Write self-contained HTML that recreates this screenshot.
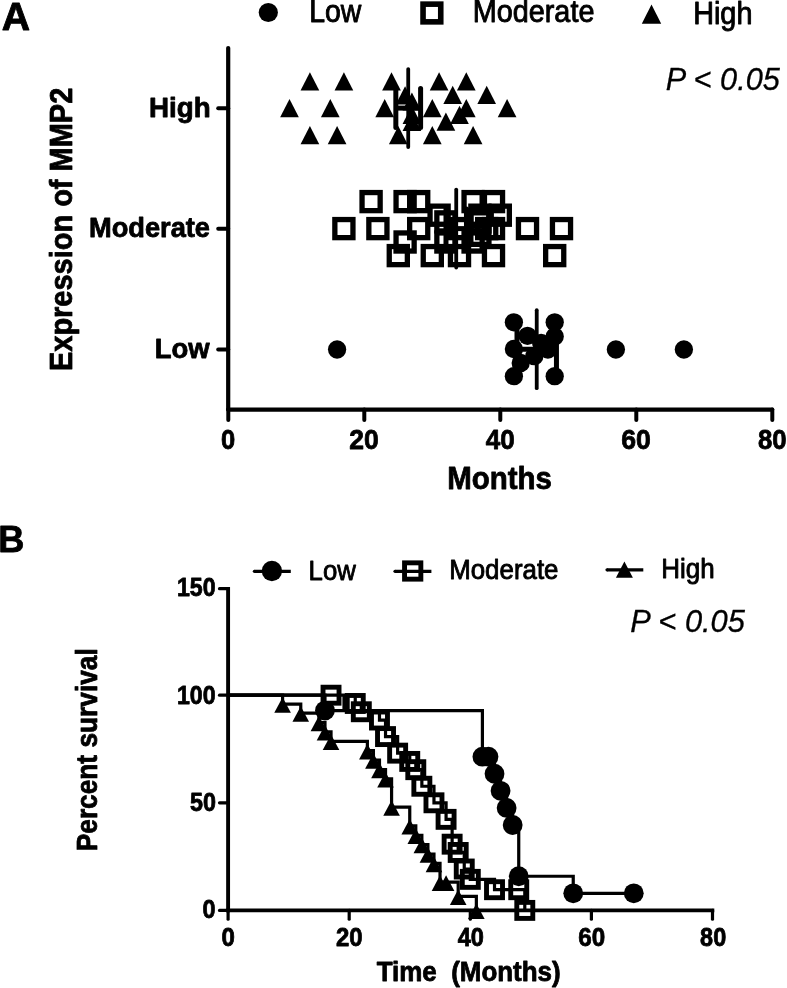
<!DOCTYPE html>
<html><head><meta charset="utf-8"><title>Figure</title>
<style>html,body{margin:0;padding:0;background:#fff}svg{display:block}</style></head>
<body>
<svg width="787" height="988" viewBox="0 0 787 988">
<rect width="787" height="988" fill="#fff"/>
<g stroke="#000" fill="none">
<line x1="228.20" y1="48.00" x2="228.20" y2="409.60" stroke-width="4.2" stroke-linecap="round"/>
<line x1="228.20" y1="409.60" x2="772.20" y2="409.60" stroke-width="4.2" stroke-linecap="round"/>
<line x1="228.30" y1="409.60" x2="228.30" y2="419.90" stroke-width="4.0" stroke-linecap="round"/>
<line x1="364.30" y1="409.60" x2="364.30" y2="419.90" stroke-width="4.0" stroke-linecap="round"/>
<line x1="500.30" y1="409.60" x2="500.30" y2="419.90" stroke-width="4.0" stroke-linecap="round"/>
<line x1="636.30" y1="409.60" x2="636.30" y2="419.90" stroke-width="4.0" stroke-linecap="round"/>
<line x1="772.30" y1="409.60" x2="772.30" y2="419.90" stroke-width="4.0" stroke-linecap="round"/>
<line x1="218.20" y1="108.20" x2="228.20" y2="108.20" stroke-width="4.0" stroke-linecap="round"/>
<line x1="218.20" y1="228.70" x2="228.20" y2="228.70" stroke-width="4.0" stroke-linecap="round"/>
<line x1="218.20" y1="349.50" x2="228.20" y2="349.50" stroke-width="4.0" stroke-linecap="round"/>
<circle cx="268.30" cy="12.50" r="9.60" fill="#000" stroke="none"/>
<rect x="423.05" y="4.15" width="17.70" height="17.70" fill="none" stroke-width="5.6"/>
<polygon points="651.50,4.55 661.20,23.85 641.80,23.85" fill="#000" stroke="none"/>
<polygon points="309.90,72.30 319.25,90.50 300.55,90.50" fill="#000" stroke="none"/>
<polygon points="343.90,72.30 353.25,90.50 334.55,90.50" fill="#000" stroke="none"/>
<polygon points="391.50,72.30 400.85,90.50 382.15,90.50" fill="#000" stroke="none"/>
<polygon points="439.10,72.30 448.45,90.50 429.75,90.50" fill="#000" stroke="none"/>
<polygon points="466.30,72.30 475.65,90.50 456.95,90.50" fill="#000" stroke="none"/>
<polygon points="289.50,99.10 298.85,117.30 280.15,117.30" fill="#000" stroke="none"/>
<polygon points="330.30,99.10 339.65,117.30 320.95,117.30" fill="#000" stroke="none"/>
<polygon points="384.70,99.10 394.05,117.30 375.35,117.30" fill="#000" stroke="none"/>
<polygon points="432.30,99.10 441.65,117.30 422.95,117.30" fill="#000" stroke="none"/>
<polygon points="466.30,99.10 475.65,117.30 456.95,117.30" fill="#000" stroke="none"/>
<polygon points="507.10,99.10 516.45,117.30 497.75,117.30" fill="#000" stroke="none"/>
<polygon points="309.90,126.10 319.25,144.30 300.55,144.30" fill="#000" stroke="none"/>
<polygon points="337.10,126.10 346.45,144.30 327.75,144.30" fill="#000" stroke="none"/>
<polygon points="398.30,126.10 407.65,144.30 388.95,144.30" fill="#000" stroke="none"/>
<polygon points="432.30,126.10 441.65,144.30 422.95,144.30" fill="#000" stroke="none"/>
<polygon points="473.10,126.10 482.45,144.30 463.75,144.30" fill="#000" stroke="none"/>
<polygon points="452.70,85.70 462.05,103.90 443.35,103.90" fill="#000" stroke="none"/>
<polygon points="486.70,85.70 496.05,103.90 477.35,103.90" fill="#000" stroke="none"/>
<polygon points="459.50,105.80 468.85,124.00 450.15,124.00" fill="#000" stroke="none"/>
<polygon points="445.90,112.50 455.25,130.70 436.55,130.70" fill="#000" stroke="none"/>
<polygon points="405.10,86.30 414.45,104.50 395.75,104.50" fill="#000" stroke="none"/>
<polygon points="411.90,92.40 421.25,110.60 402.55,110.60" fill="#000" stroke="none"/>
<polygon points="411.90,105.80 421.25,124.00 402.55,124.00" fill="#000" stroke="none"/>
<polygon points="411.90,112.90 421.25,131.10 402.55,131.10" fill="#000" stroke="none"/>
<rect x="362.05" y="192.55" width="18.10" height="18.10" fill="none" stroke-width="5.3"/>
<rect x="396.05" y="192.55" width="18.10" height="18.10" fill="none" stroke-width="5.3"/>
<rect x="409.65" y="192.55" width="18.10" height="18.10" fill="none" stroke-width="5.3"/>
<rect x="464.05" y="192.55" width="18.10" height="18.10" fill="none" stroke-width="5.3"/>
<rect x="484.45" y="192.55" width="18.10" height="18.10" fill="none" stroke-width="5.3"/>
<rect x="430.05" y="206.15" width="18.10" height="18.10" fill="none" stroke-width="5.3"/>
<rect x="470.85" y="206.15" width="18.10" height="18.10" fill="none" stroke-width="5.3"/>
<rect x="491.25" y="206.15" width="18.10" height="18.10" fill="none" stroke-width="5.3"/>
<rect x="436.85" y="212.85" width="18.10" height="18.10" fill="none" stroke-width="5.3"/>
<rect x="470.85" y="212.85" width="18.10" height="18.10" fill="none" stroke-width="5.3"/>
<rect x="334.85" y="219.55" width="18.10" height="18.10" fill="none" stroke-width="5.3"/>
<rect x="368.85" y="219.55" width="18.10" height="18.10" fill="none" stroke-width="5.3"/>
<rect x="409.65" y="219.55" width="18.10" height="18.10" fill="none" stroke-width="5.3"/>
<rect x="450.45" y="219.55" width="18.10" height="18.10" fill="none" stroke-width="5.3"/>
<rect x="477.65" y="219.55" width="18.10" height="18.10" fill="none" stroke-width="5.3"/>
<rect x="484.45" y="219.55" width="18.10" height="18.10" fill="none" stroke-width="5.3"/>
<rect x="518.45" y="219.55" width="18.10" height="18.10" fill="none" stroke-width="5.3"/>
<rect x="552.45" y="219.55" width="18.10" height="18.10" fill="none" stroke-width="5.3"/>
<rect x="470.85" y="226.25" width="18.10" height="18.10" fill="none" stroke-width="5.3"/>
<rect x="396.05" y="232.95" width="18.10" height="18.10" fill="none" stroke-width="5.3"/>
<rect x="436.85" y="232.95" width="18.10" height="18.10" fill="none" stroke-width="5.3"/>
<rect x="464.05" y="232.95" width="18.10" height="18.10" fill="none" stroke-width="5.3"/>
<rect x="389.25" y="246.55" width="18.10" height="18.10" fill="none" stroke-width="5.3"/>
<rect x="423.25" y="246.55" width="18.10" height="18.10" fill="none" stroke-width="5.3"/>
<rect x="450.45" y="246.55" width="18.10" height="18.10" fill="none" stroke-width="5.3"/>
<rect x="484.45" y="246.55" width="18.10" height="18.10" fill="none" stroke-width="5.3"/>
<rect x="545.65" y="246.55" width="18.10" height="18.10" fill="none" stroke-width="5.3"/>
<circle cx="513.90" cy="322.30" r="9.15" fill="#000" stroke="none"/>
<circle cx="554.70" cy="322.30" r="9.15" fill="#000" stroke="none"/>
<circle cx="527.50" cy="335.80" r="9.15" fill="#000" stroke="none"/>
<circle cx="554.70" cy="336.50" r="9.15" fill="#000" stroke="none"/>
<circle cx="337.10" cy="349.50" r="9.15" fill="#000" stroke="none"/>
<circle cx="513.90" cy="349.00" r="9.15" fill="#000" stroke="none"/>
<circle cx="547.90" cy="349.50" r="9.15" fill="#000" stroke="none"/>
<circle cx="615.90" cy="349.50" r="9.15" fill="#000" stroke="none"/>
<circle cx="683.90" cy="349.50" r="9.15" fill="#000" stroke="none"/>
<circle cx="541.10" cy="342.80" r="9.15" fill="#000" stroke="none"/>
<circle cx="534.30" cy="356.20" r="9.15" fill="#000" stroke="none"/>
<circle cx="520.70" cy="363.00" r="9.15" fill="#000" stroke="none"/>
<circle cx="513.90" cy="376.20" r="9.15" fill="#000" stroke="none"/>
<circle cx="554.70" cy="376.20" r="9.15" fill="#000" stroke="none"/>
<line x1="408.22" y1="69.10" x2="408.22" y2="147.10" stroke-width="3.8" stroke-linecap="round"/>
<line x1="395.83" y1="108.10" x2="420.60" y2="108.10" stroke-width="5.0" stroke-linecap="butt"/>
<line x1="395.83" y1="88.60" x2="395.83" y2="127.60" stroke-width="5.0" stroke-linecap="round"/>
<line x1="420.60" y1="88.60" x2="420.60" y2="127.60" stroke-width="5.0" stroke-linecap="round"/>
<line x1="456.23" y1="189.60" x2="456.23" y2="267.60" stroke-width="3.8" stroke-linecap="round"/>
<line x1="445.98" y1="228.60" x2="466.47" y2="228.60" stroke-width="5.0" stroke-linecap="butt"/>
<line x1="445.98" y1="209.10" x2="445.98" y2="248.10" stroke-width="5.0" stroke-linecap="round"/>
<line x1="466.47" y1="209.10" x2="466.47" y2="248.10" stroke-width="5.0" stroke-linecap="round"/>
<line x1="536.73" y1="310.20" x2="536.73" y2="388.20" stroke-width="3.8" stroke-linecap="round"/>
<line x1="517.00" y1="349.20" x2="556.45" y2="349.20" stroke-width="5.0" stroke-linecap="butt"/>
<line x1="517.00" y1="329.70" x2="517.00" y2="368.70" stroke-width="5.0" stroke-linecap="round"/>
<line x1="556.45" y1="329.70" x2="556.45" y2="368.70" stroke-width="5.0" stroke-linecap="round"/>
<line x1="228.10" y1="588.90" x2="228.10" y2="910.40" stroke-width="3.9" stroke-linecap="square"/>
<line x1="228.10" y1="910.40" x2="712.50" y2="910.40" stroke-width="3.6" stroke-linecap="square"/>
<line x1="228.10" y1="910.40" x2="228.10" y2="919.20" stroke-width="3.2" stroke-linecap="round"/>
<line x1="349.20" y1="910.40" x2="349.20" y2="919.20" stroke-width="3.2" stroke-linecap="round"/>
<line x1="470.30" y1="910.40" x2="470.30" y2="919.20" stroke-width="3.2" stroke-linecap="round"/>
<line x1="591.40" y1="910.40" x2="591.40" y2="919.20" stroke-width="3.2" stroke-linecap="round"/>
<line x1="712.50" y1="910.40" x2="712.50" y2="919.20" stroke-width="3.2" stroke-linecap="round"/>
<line x1="219.50" y1="910.40" x2="228.00" y2="910.40" stroke-width="3.2" stroke-linecap="round"/>
<line x1="219.50" y1="802.80" x2="228.00" y2="802.80" stroke-width="3.2" stroke-linecap="round"/>
<line x1="219.50" y1="695.20" x2="228.00" y2="695.20" stroke-width="3.2" stroke-linecap="round"/>
<line x1="219.50" y1="588.70" x2="228.00" y2="588.70" stroke-width="3.2" stroke-linecap="round"/>
<line x1="254.40" y1="571.30" x2="290.80" y2="571.30" stroke-width="3.2" stroke-linecap="butt"/>
<circle cx="254.40" cy="571.30" r="1.60" fill="#000" stroke="none"/>
<circle cx="271.90" cy="571.00" r="10.15" fill="#000" stroke="none"/>
<line x1="395.00" y1="571.30" x2="431.40" y2="571.30" stroke-width="3.2" stroke-linecap="butt"/>
<circle cx="395.00" cy="571.30" r="1.60" fill="#000" stroke="none"/>
<rect x="404.55" y="562.85" width="16.30" height="16.30" fill="none" stroke-width="4.9"/>
<line x1="607.00" y1="569.80" x2="643.30" y2="569.80" stroke-width="3.2" stroke-linecap="butt"/>
<circle cx="607.00" cy="569.80" r="1.60" fill="#000" stroke="none"/>
<polygon points="624.40,561.60 632.90,577.80 615.90,577.80" fill="#000" stroke="none"/>
<line x1="343.70" y1="695.20" x2="343.70" y2="712.00" stroke-width="2.6" stroke-linecap="butt"/>
<path d="M228.10,695.20 L324.98,695.20 L324.98,710.57 L482.41,710.57 L482.41,756.69 L488.47,756.69 L494.52,756.69 L494.52,773.77 L500.57,773.77 L500.57,790.84 L506.63,790.84 L506.63,807.92 L512.68,807.92 L512.68,825.00 L518.74,825.00 L518.74,876.24 L573.24,876.24 L573.24,893.32 L633.78,893.32" fill="none" stroke-width="3.2" stroke-linejoin="miter"/>
<circle cx="324.98" cy="710.57" r="9.90" fill="#000" stroke="none"/>
<circle cx="482.41" cy="756.69" r="9.90" fill="#000" stroke="none"/>
<circle cx="488.47" cy="756.69" r="9.90" fill="#000" stroke="none"/>
<circle cx="494.52" cy="773.77" r="9.90" fill="#000" stroke="none"/>
<circle cx="500.57" cy="790.84" r="9.90" fill="#000" stroke="none"/>
<circle cx="506.63" cy="807.92" r="9.90" fill="#000" stroke="none"/>
<circle cx="512.68" cy="825.00" r="9.90" fill="#000" stroke="none"/>
<circle cx="518.74" cy="876.24" r="9.90" fill="#000" stroke="none"/>
<circle cx="573.24" cy="893.32" r="9.90" fill="#000" stroke="none"/>
<circle cx="633.78" cy="893.32" r="9.90" fill="#000" stroke="none"/>
<path d="M228.10,695.20 L331.03,695.20 L355.25,695.20 L355.25,703.48 L361.31,703.48 L361.31,711.75 L379.48,711.75 L379.48,720.03 L385.53,720.03 L385.53,736.58 L397.64,736.58 L397.64,753.14 L409.75,753.14 L409.75,761.42 L415.80,761.42 L415.80,769.69 L421.86,769.69 L421.86,786.25 L433.97,786.25 L433.97,802.80 L446.08,802.80 L446.08,819.35 L452.13,819.35 L452.13,844.18 L458.19,844.18 L458.19,852.46 L464.25,852.46 L464.25,869.02 L470.30,869.02 L470.30,879.36 L494.52,879.36 L494.52,889.71 L518.74,889.71 L524.79,889.71 L524.79,910.40" fill="none" stroke-width="3.2" stroke-linejoin="miter"/>
<rect x="323.03" y="687.20" width="16.00" height="16.00" fill="none" stroke-width="4.9"/>
<rect x="347.25" y="695.48" width="16.00" height="16.00" fill="none" stroke-width="4.9"/>
<rect x="353.31" y="703.75" width="16.00" height="16.00" fill="none" stroke-width="4.9"/>
<rect x="371.48" y="712.03" width="16.00" height="16.00" fill="none" stroke-width="4.9"/>
<rect x="377.53" y="728.58" width="16.00" height="16.00" fill="none" stroke-width="4.9"/>
<rect x="389.64" y="745.14" width="16.00" height="16.00" fill="none" stroke-width="4.9"/>
<rect x="401.75" y="753.42" width="16.00" height="16.00" fill="none" stroke-width="4.9"/>
<rect x="407.80" y="761.69" width="16.00" height="16.00" fill="none" stroke-width="4.9"/>
<rect x="413.86" y="778.25" width="16.00" height="16.00" fill="none" stroke-width="4.9"/>
<rect x="425.97" y="794.80" width="16.00" height="16.00" fill="none" stroke-width="4.9"/>
<rect x="438.08" y="811.35" width="16.00" height="16.00" fill="none" stroke-width="4.9"/>
<rect x="444.13" y="836.18" width="16.00" height="16.00" fill="none" stroke-width="4.9"/>
<rect x="450.19" y="844.46" width="16.00" height="16.00" fill="none" stroke-width="4.9"/>
<rect x="456.25" y="861.02" width="16.00" height="16.00" fill="none" stroke-width="4.9"/>
<rect x="462.30" y="871.36" width="16.00" height="16.00" fill="none" stroke-width="4.9"/>
<rect x="486.52" y="881.71" width="16.00" height="16.00" fill="none" stroke-width="4.9"/>
<rect x="510.74" y="881.71" width="16.00" height="16.00" fill="none" stroke-width="4.9"/>
<rect x="516.79" y="902.40" width="16.00" height="16.00" fill="none" stroke-width="4.9"/>
<path d="M228.10,695.20 L282.59,695.20 L282.59,704.17 L300.76,704.17 L300.76,713.13 L318.92,713.13 L318.92,722.53 L324.98,722.53 L324.98,731.92 L331.03,731.92 L331.03,741.31 L367.37,741.31 L367.37,750.71 L373.42,750.71 L373.42,760.10 L379.48,760.10 L379.48,769.50 L385.53,769.50 L385.53,778.89 L391.58,778.89 L391.58,807.07 L409.75,807.07 L409.75,825.86 L415.80,825.86 L415.80,835.25 L421.86,835.25 L421.86,844.64 L427.91,844.64 L427.91,854.04 L433.97,854.04 L433.97,863.43 L440.02,863.43 L440.02,882.22 L446.08,882.22 L458.19,882.22 L458.19,896.31 L476.36,896.31 L476.36,910.40" fill="none" stroke-width="3.2" stroke-linejoin="miter"/>
<polygon points="282.59,697.27 290.89,712.87 274.29,712.87" fill="#000" stroke="none"/>
<polygon points="300.76,706.23 309.06,721.83 292.46,721.83" fill="#000" stroke="none"/>
<polygon points="318.92,715.63 327.22,731.23 310.62,731.23" fill="#000" stroke="none"/>
<polygon points="324.98,725.02 333.28,740.62 316.68,740.62" fill="#000" stroke="none"/>
<polygon points="331.03,734.41 339.33,750.01 322.73,750.01" fill="#000" stroke="none"/>
<polygon points="367.37,743.81 375.67,759.41 359.06,759.41" fill="#000" stroke="none"/>
<polygon points="373.42,753.20 381.72,768.80 365.12,768.80" fill="#000" stroke="none"/>
<polygon points="379.48,762.60 387.78,778.20 371.18,778.20" fill="#000" stroke="none"/>
<polygon points="385.53,771.99 393.83,787.59 377.23,787.59" fill="#000" stroke="none"/>
<polygon points="391.58,800.17 399.88,815.77 383.28,815.77" fill="#000" stroke="none"/>
<polygon points="409.75,818.96 418.05,834.56 401.45,834.56" fill="#000" stroke="none"/>
<polygon points="415.80,828.35 424.10,843.95 407.50,843.95" fill="#000" stroke="none"/>
<polygon points="421.86,837.74 430.16,853.34 413.56,853.34" fill="#000" stroke="none"/>
<polygon points="427.91,847.14 436.21,862.74 419.61,862.74" fill="#000" stroke="none"/>
<polygon points="433.97,856.53 442.27,872.13 425.67,872.13" fill="#000" stroke="none"/>
<polygon points="440.02,875.32 448.32,890.92 431.72,890.92" fill="#000" stroke="none"/>
<polygon points="446.08,875.32 454.38,890.92 437.78,890.92" fill="#000" stroke="none"/>
<polygon points="458.19,889.41 466.49,905.01 449.89,905.01" fill="#000" stroke="none"/>
<polygon points="476.36,903.50 484.66,919.10 468.06,919.10" fill="#000" stroke="none"/>
</g>
<g font-family="'Liberation Sans', Arial, sans-serif" fill="#000" stroke="#000" stroke-linejoin="round">
<text transform="translate(1.72,30.10) scale(1.0344,1)" font-size="37.94" font-weight="bold" stroke-width="0.8">A</text>
<text transform="translate(309.17,22.15) scale(0.9152,1)" font-size="31.10" stroke-width="0.9">Low</text>
<text transform="translate(472.75,22.15) scale(0.9304,1)" font-size="30.96" stroke-width="0.9">Moderate</text>
<text transform="translate(693.14,23.95) scale(0.9231,1)" font-size="31.25" stroke-width="0.9">High</text>
<text transform="translate(665.73,90.05) scale(0.9834,1)" font-size="31.25" font-style="italic" stroke-width="0.3">P &lt; 0.05</text>
<text transform="translate(148.96,116.90) scale(1.0265,1)" font-size="27.03" font-weight="bold" stroke-width="0.8">High</text>
<text transform="translate(88.99,237.20) scale(1.0074,1)" font-size="27.03" font-weight="bold" stroke-width="0.8">Moderate</text>
<text transform="translate(154.78,358.20) scale(1.0158,1)" font-size="27.03" font-weight="bold" stroke-width="0.8">Low</text>
<text transform="translate(220.98,448.92) scale(0.9223,1)" font-size="27.68" font-weight="bold" stroke-width="0.8">0</text>
<text transform="translate(349.30,448.92) scale(0.9586,1)" font-size="27.68" font-weight="bold" stroke-width="0.8">20</text>
<text transform="translate(485.78,448.92) scale(0.9426,1)" font-size="27.68" font-weight="bold" stroke-width="0.8">40</text>
<text transform="translate(621.24,448.92) scale(0.9609,1)" font-size="27.68" font-weight="bold" stroke-width="0.8">60</text>
<text transform="translate(758.03,448.92) scale(0.9308,1)" font-size="27.68" font-weight="bold" stroke-width="0.8">80</text>
<text transform="translate(447.14,488.50) scale(0.9389,1)" font-size="31.40" font-weight="bold" stroke-width="0.8">Months</text>
<text transform="translate(72.10,371.03) rotate(-90) scale(0.9493,1)" font-size="30.52" font-weight="bold" stroke-width="0.8">Expression of MMP2</text>
<text transform="translate(-1.64,552.20) scale(0.9931,1)" font-size="36.48" font-weight="bold" stroke-width="0.8">B</text>
<text transform="translate(308.59,579.85) scale(0.9081,1)" font-size="28.34" stroke-width="0.9">Low</text>
<text transform="translate(449.18,579.35) scale(0.9322,1)" font-size="27.76" stroke-width="0.9">Moderate</text>
<text transform="translate(661.27,578.05) scale(0.9354,1)" font-size="27.76" stroke-width="0.9">High</text>
<text transform="translate(630.32,632.25) scale(1.0056,1)" font-size="30.67" font-style="italic" stroke-width="0.3">P &lt; 0.05</text>
<text transform="translate(176.91,595.84) scale(0.9069,1)" font-size="25.56" font-weight="bold" stroke-width="0.8">150</text>
<text transform="translate(176.91,703.84) scale(0.9069,1)" font-size="25.56" font-weight="bold" stroke-width="0.8">100</text>
<text transform="translate(189.90,811.44) scale(0.9140,1)" font-size="25.56" font-weight="bold" stroke-width="0.8">50</text>
<text transform="translate(202.46,918.34) scale(0.9155,1)" font-size="25.56" font-weight="bold" stroke-width="0.8">0</text>
<text transform="translate(221.54,945.54) scale(0.9404,1)" font-size="25.56" font-weight="bold" stroke-width="0.8">0</text>
<text transform="translate(335.98,945.54) scale(0.9365,1)" font-size="25.56" font-weight="bold" stroke-width="0.8">20</text>
<text transform="translate(457.73,945.54) scale(0.9239,1)" font-size="25.56" font-weight="bold" stroke-width="0.8">40</text>
<text transform="translate(578.23,945.54) scale(0.9456,1)" font-size="25.56" font-weight="bold" stroke-width="0.8">60</text>
<text transform="translate(700.10,945.54) scale(0.9177,1)" font-size="25.56" font-weight="bold" stroke-width="0.8">80</text>
<text transform="translate(376.64,981.10) scale(0.9602,1)" font-size="27.03" font-weight="bold" stroke-width="0.8" xml:space="preserve">Time  (Months)</text>
<text transform="translate(97.30,851.24) rotate(-90) scale(0.9178,1)" font-size="28.63" font-weight="bold" stroke-width="0.8">Percent survival</text>
</g>
</svg>
</body></html>
